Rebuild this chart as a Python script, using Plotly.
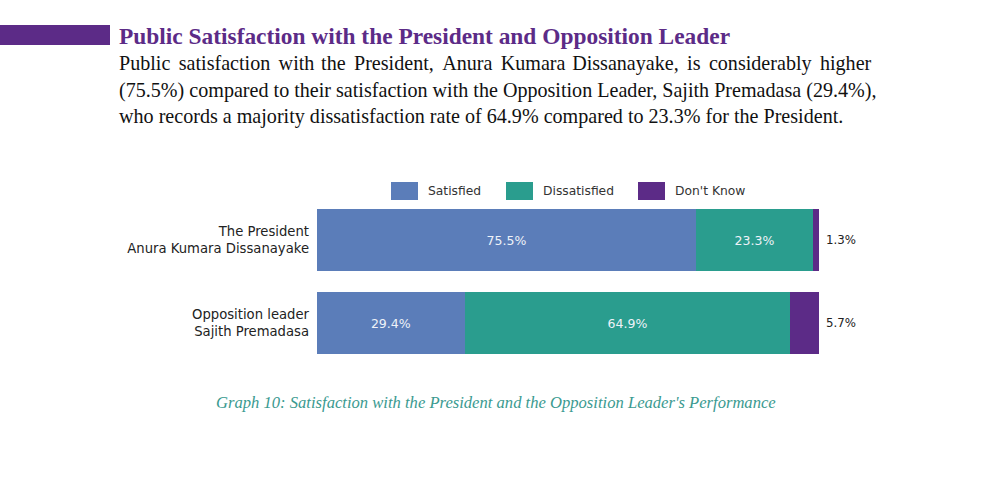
import plotly.graph_objects as go

categories = ["The President<br>Anura Kumara Dissanayake", "Opposition leader<br>Sajith Premadasa"]
series_names = ["Satisfied", "Dissatisfied", "Don't Know"]
satisfied = [75.5, 29.4]
dissatisfied = [23.3, 64.9]
dont_know = [1.3, 5.7]
colors = ["#5b7db9", "#2a9d8e", "#5c2b87"]

W, H = 991, 495
def px(x):
    return x / W
def py(y):
    return 1 - y / H

ypos = list(range(len(categories)))
fig = go.Figure()
values = [satisfied, dissatisfied, dont_know]
for i, (name, vals, col) in enumerate(zip(series_names, values, colors)):
    texts = [f"{v}%" for v in vals] if i < 2 else [""] * len(vals)
    fig.add_trace(go.Bar(
        y=ypos, x=vals, name=name, orientation="h", width=0.75,
        marker=dict(color=col, line=dict(width=0)),
        text=texts, textposition="inside", insidetextanchor="middle",
        textfont=dict(family="DejaVu Sans", size=12.5, color="#eef2f8"),
        showlegend=False, hoverinfo="skip",
    ))

annotations = []
# outside labels for Don't Know
for j in range(len(categories)):
    total = satisfied[j] + dissatisfied[j] + dont_know[j]
    annotations.append(dict(x=min(total, 100), y=ypos[j], xref="x", yref="y",
                            text=f"{dont_know[j]}%", showarrow=False, xanchor="left", xshift=5,
                            font=dict(family="DejaVu Sans", size=11.8, color="#222222")))

shapes = []
# custom legend
leg_x = [391, 506, 638]
for name, col, lx in zip(series_names, colors, leg_x):
    shapes.append(dict(type="rect", xref="paper", yref="paper",
                       x0=px(lx), x1=px(lx + 27), y0=py(200), y1=py(182),
                       fillcolor=col, line=dict(width=0)))
    annotations.append(dict(x=px(lx + 35), y=py(191), xref="paper", yref="paper",
                            text=name, showarrow=False, xanchor="left", yanchor="middle",
                            font=dict(family="DejaVu Sans", size=12.3, color="#333333")))

# header bar
shapes.append(dict(type="rect", xref="paper", yref="paper", x0=0, x1=px(110),
                   y0=py(45), y1=py(25), fillcolor="#5c2b87", line=dict(width=0)))

annotations.append(dict(x=px(117), y=py(36), xref="paper", yref="paper",
                        text="<b>Public Satisfaction with the President and Opposition Leader</b>",
                        showarrow=False, xanchor="left", yanchor="middle",
                        font=dict(family="Liberation Serif", size=23.4, color="#5c2b87")))

HS = "\u200a"
line1_words = "Public satisfaction with the President, Anura Kumara Dissanayake, is considerably higher".split(" ")
line1 = ""
for n, w in enumerate(line1_words):
    if n:
        line1 += " " + (HS if n in (3, 7) else HS + HS)
    line1 += w
body_lines = [
    line1,
    "(75.5%) compared to their satisfaction with the Opposition Leader, Sajith Premadasa (29.4%),",
    "who records a majority dissatisfaction rate of 64.9% compared to 23.3% for the President.",
]
for k, line in enumerate(body_lines):
    annotations.append(dict(x=px(117), y=py(64 + 26.5 * k), xref="paper", yref="paper",
                            text=line, showarrow=False, xanchor="left", yanchor="middle",
                            font=dict(family="Liberation Serif", size=20.1, color="#111111")))

annotations.append(dict(x=px(496), y=py(402), xref="paper", yref="paper",
                        text="<i>Graph 10: Satisfaction with the President and the Opposition Leader's Performance</i>",
                        showarrow=False, xanchor="center", yanchor="middle",
                        font=dict(family="Liberation Serif", size=16.6, color="#3a9a90")))

fig.update_layout(
    width=W, height=H, margin=dict(l=0, r=0, t=0, b=0),
    paper_bgcolor="white", plot_bgcolor="white",
    barmode="stack", showlegend=False,
    xaxis=dict(domain=[px(317), px(819)], range=[0, 100], visible=False),
    yaxis=dict(domain=[py(364.75), py(198.75)], range=[1.5, -0.5],
               tickvals=ypos, ticktext=categories, showgrid=False, zeroline=False,
               showline=False, ticks="", ticklabelstandoff=7,
               tickfont=dict(family="DejaVu Sans", size=13.2, color="#222222")),
    shapes=shapes, annotations=annotations,
)
fig.write_html("out.html", config={"displayModeBar": False},
               post_script="document.body.style.margin='0';")
